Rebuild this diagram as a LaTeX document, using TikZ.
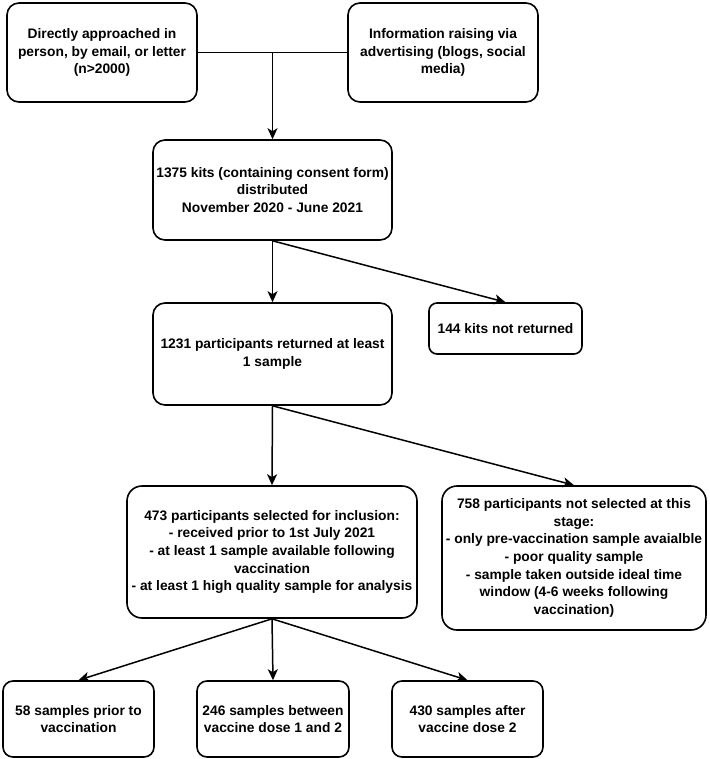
\documentclass[tikz,border=0pt]{standalone}
\usepackage{fontspec}
\setmainfont{Liberation Sans}
\usetikzlibrary{arrows.meta}
\tikzset{
  x=1pt,y=-1pt,
  box/.style={draw=black, line width=1.6pt, rounded corners=12pt, fill=white,
    align=center, inner sep=0pt, font=\bfseries\fontsize{13.8}{17.7}\selectfont},
  link/.style={line width=1.5pt, -{Stealth[length=11pt,width=10pt,inset=3pt]}},
  plain/.style={line width=1.5pt}
}
\begin{document}
\begin{tikzpicture}
\useasboundingbox (0,0) rectangle (709,759);
\node[box, minimum width=190pt, minimum height=99pt] (a) at (102,52.5)
  {Directly approached in\\person, by email, or letter\\(n>2000)};
\node[box, minimum width=190pt, minimum height=99pt] (b) at (443,52.5)
  {Information raising via\\advertising (blogs, social\\media)};
\node[box, minimum width=239pt, minimum height=100pt] (c) at (272.5,190)
  {1375 kits (containing consent form)\\distributed\\November 2020 - June 2021};
\node[box, minimum width=239pt, minimum height=102pt] (d) at (272.5,354)
  {1231 participants returned at least\\1 sample};
\node[box, rounded corners=8pt, minimum width=153pt, minimum height=51pt] (e) at (505.5,328.5)
  {144 kits not returned};
\node[box, rounded corners=15pt, minimum width=290pt, minimum height=132pt] (f) at (272,552)
  {473 participants selected for inclusion:\\- received prior to 1st July 2021\\- at least 1 sample available following\\vaccination\\- at least 1 high quality sample for analysis};
\node[box, rounded corners=15pt, minimum width=264pt, minimum height=144pt] (g) at (574,558)
  {758 participants not selected at this\\stage:\\- only pre-vaccination sample avaialble\\- poor quality sample\\- sample taken outside ideal time\\window (4-6 weeks following\\vaccination)};
\node[box, rounded corners=10pt, minimum width=151pt, minimum height=76pt] (h) at (78.5,719)
  {58 samples prior to\\vaccination};
\node[box, rounded corners=10pt, minimum width=152pt, minimum height=76pt] (i) at (273,719)
  {246 samples between\\vaccine dose 1 and 2};
\node[box, rounded corners=10pt, minimum width=151pt, minimum height=76pt] (k) at (467.5,719)
  {430 samples after\\vaccine dose 2};
\coordinate (j) at (c.north |- a.east);
\draw[plain] (a.east) -- (b.west);
\draw[link] (j) -- (c.north);
\draw[link] (c.south) -- (d.north);
\draw[link] (c.south) -- (e.north);
\draw[link] (d.south) -- (f.north);
\draw[link] (d.south) -- (g.north);
\draw[link] (f.south) -- (h.north);
\draw[link] (f.south) -- (i.north);
\draw[link] (f.south) -- (k.north);
\end{tikzpicture}
\end{document}
